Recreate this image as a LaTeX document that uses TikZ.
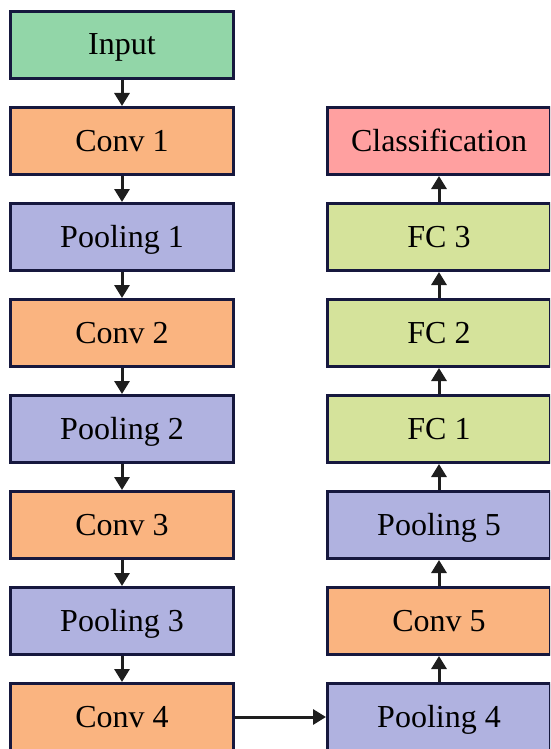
\documentclass[tikz,border=0pt]{standalone}
\usepackage{fontspec}
\setmainfont{Liberation Serif}
\usetikzlibrary{arrows.meta,positioning}
\definecolor{inputgreen}{RGB}{146,214,168}
\definecolor{convorange}{RGB}{250,180,128}
\definecolor{poolblue}{RGB}{176,178,224}
\definecolor{fcgreen}{RGB}{213,227,155}
\definecolor{clsred}{RGB}{255,160,160}
\definecolor{edgenavy}{RGB}{22,24,62}
\definecolor{arrowdark}{RGB}{30,30,30}
\tikzset{
  layer/.style={
    draw=edgenavy, line width=3pt,
    minimum width=223pt, minimum height=67pt, inner sep=0pt,
    text height=24pt, text depth=4pt,
    font=\fontsize{32}{36}\selectfont,
  },
  flow/.style={-{Triangle[width=15pt,length=13pt]}, line width=3pt, draw=arrowdark},
}

\begin{document}
\begin{tikzpicture}[x=1pt, y=-1pt, node distance=26pt]
\clip (0,0) rectangle (550,749);
\useasboundingbox (0,0) rectangle (550,749);
% left column
\node [layer, fill=inputgreen] (input) at (122,45) {Input};
\node [layer, fill=convorange, below=of input] (conv1) {Conv 1};
\node [layer, fill=poolblue, below=of conv1] (pool1) {Pooling 1};
\node [layer, fill=convorange, below=of pool1] (conv2) {Conv 2};
\node [layer, fill=poolblue, below=of conv2] (pool2) {Pooling 2};
\node [layer, fill=convorange, below=of pool2] (conv3) {Conv 3};
\node [layer, fill=poolblue, below=of conv3] (pool3) {Pooling 3};
\node [layer, fill=convorange, below=of pool3] (conv4) {Conv 4};
% right column
\node [layer, fill=clsred, right=91pt of conv1] (cls) {Classification};
\node [layer, fill=fcgreen, below=of cls] (fc3) {FC 3};
\node [layer, fill=fcgreen, below=of fc3] (fc2) {FC 2};
\node [layer, fill=fcgreen, below=of fc2] (fc1) {FC 1};
\node [layer, fill=poolblue, below=of fc1] (pool5) {Pooling 5};
\node [layer, fill=convorange, below=of pool5] (conv5) {Conv 5};
\node [layer, fill=poolblue, below=of conv5] (pool4) {Pooling 4};

\foreach \a/\b in {input/conv1, conv1/pool1, pool1/conv2, conv2/pool2, pool2/conv3, conv3/pool3, pool3/conv4}
  \draw [flow] (\a.south) -- (\b.north);
\foreach \a/\b in {pool4/conv5, conv5/pool5, pool5/fc1, fc1/fc2, fc2/fc3, fc3/cls}
  \draw [flow] (\a.north) -- (\b.south);
\draw [flow] (conv4.east) -- (pool4.west);
\end{tikzpicture}
\end{document}
